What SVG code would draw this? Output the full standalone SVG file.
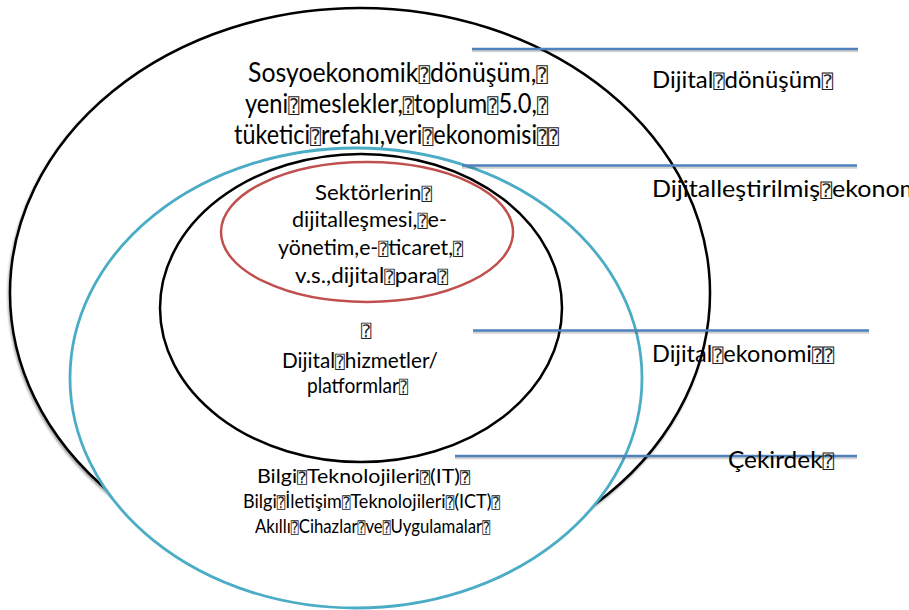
<svg xmlns="http://www.w3.org/2000/svg" width="909" height="610" viewBox="0 0 909 610">
<style>
.t{font-family:Lato,"Open Sans","Liberation Sans",sans-serif;fill:#000}
.big{font-size:26px}
.mid{font-size:22px}
.sm{font-size:20px}
.lab{font-size:24px}
.q{font-family:"DejaVu Sans Mono","DejaVu Sans",monospace;font-size:0.78em;fill:#222}
.ln{stroke:#4F81BD;stroke-width:2.5;fill:none}
.sh{stroke:#000;stroke-opacity:0.18;stroke-width:2.5;fill:none}
</style>
<defs>
<filter id="ds" x="-5%" y="-5%" width="110%" height="110%">
<feGaussianBlur in="SourceAlpha" stdDeviation="1.2"/>
<feOffset dx="-1" dy="2" result="b"/>
<feComponentTransfer><feFuncA type="linear" slope="0.35"/></feComponentTransfer>
<feMerge><feMergeNode/><feMergeNode in="SourceGraphic"/></feMerge>
</filter>
</defs>
<g id="dijital-donusum-ellipse">
<ellipse cx="360" cy="293" rx="350" ry="285" fill="#fff" stroke="#000" stroke-width="2.5" filter="url(#ds)"/>
</g>
<g id="dijitallestirilmis-ellipse">
<ellipse cx="356" cy="378" rx="286" ry="230" fill="#fff" stroke="#4BACC6" stroke-width="2.8"/>
</g>
<g id="dijital-ekonomi-ellipse">
<ellipse cx="361" cy="308" rx="201" ry="154" fill="#fff" stroke="#000" stroke-width="2.5"/>
</g>
<g id="sektor-ellipse">
<ellipse cx="367" cy="232" rx="146" ry="70" fill="none" stroke="#C0504D" stroke-width="2.5"/>
</g>
<g id="connectors">
<line class="sh" x1="472" y1="51" x2="858" y2="51"/>
<line class="ln" x1="472" y1="49" x2="858" y2="49"/>
<line class="sh" x1="462" y1="167.5" x2="857" y2="167.5"/>
<line class="ln" x1="462" y1="165.5" x2="857" y2="165.5"/>
<line class="sh" x1="473" y1="332.5" x2="869" y2="332.5"/>
<line class="ln" x1="473" y1="330.5" x2="869" y2="330.5"/>
<line class="sh" x1="455" y1="458" x2="857" y2="458"/>
<line class="ln" x1="455" y1="456" x2="857" y2="456"/>
</g>
<g id="outer-text">
<text class="t big" x="248" y="82" textLength="300" lengthAdjust="spacingAndGlyphs">Sosyoekonomik<tspan class="q">⍰</tspan>dönüşüm,<tspan class="q">⍰</tspan></text>
<text class="t big" x="245" y="113" textLength="303" lengthAdjust="spacingAndGlyphs">yeni<tspan class="q">⍰</tspan>meslekler,<tspan class="q">⍰</tspan>toplum<tspan class="q">⍰</tspan>5.0,<tspan class="q">⍰</tspan></text>
<text class="t big" x="234" y="144" textLength="325" lengthAdjust="spacingAndGlyphs">tüketici<tspan class="q">⍰</tspan>refahı,veri<tspan class="q">⍰</tspan>ekonomisi<tspan class="q">⍰⍰</tspan></text>
</g>
<g id="sektor-text">
<text class="t mid" x="315" y="200" textLength="117" lengthAdjust="spacingAndGlyphs">Sektörlerin<tspan class="q">⍰</tspan></text>
<text class="t mid" x="292" y="227" textLength="155" lengthAdjust="spacingAndGlyphs">dijitalleşmesi,<tspan class="q">⍰</tspan>e-</text>
<text class="t mid" x="278" y="255" textLength="185" lengthAdjust="spacingAndGlyphs">yönetim,e-<tspan class="q">⍰</tspan>ticaret,<tspan class="q">⍰</tspan></text>
<text class="t mid" x="295" y="283" textLength="153" lengthAdjust="spacingAndGlyphs">v.s.,dijital<tspan class="q">⍰</tspan>para<tspan class="q">⍰</tspan></text>
</g>
<g id="hizmet-text">
<text class="t mid" x="361" y="337"><tspan class="q">⍰</tspan></text>
<text class="t mid" x="282" y="368" textLength="156" lengthAdjust="spacingAndGlyphs">Dijital<tspan class="q">⍰</tspan>hizmetler/</text>
<text class="t mid" x="307" y="393" textLength="101" lengthAdjust="spacingAndGlyphs">platformlar<tspan class="q">⍰</tspan></text>
</g>
<g id="cekirdek-text">
<text class="t sm" x="257" y="483" textLength="213" lengthAdjust="spacingAndGlyphs">Bilgi<tspan class="q">⍰</tspan>Teknolojileri<tspan class="q">⍰</tspan>(IT)<tspan class="q">⍰</tspan></text>
<text class="t sm" x="243" y="508" textLength="257" lengthAdjust="spacingAndGlyphs">Bilgi<tspan class="q">⍰</tspan>İletişim<tspan class="q">⍰</tspan>Teknolojileri<tspan class="q">⍰</tspan>(ICT)<tspan class="q">⍰</tspan></text>
<text class="t sm" x="255" y="533" textLength="235" lengthAdjust="spacingAndGlyphs">Akıllı<tspan class="q">⍰</tspan>Cihazlar<tspan class="q">⍰</tspan>ve<tspan class="q">⍰</tspan>Uygulamalar<tspan class="q">⍰</tspan></text>
</g>
<g id="labels">
<text class="t lab" x="652" y="88" textLength="181" lengthAdjust="spacingAndGlyphs">Dijital<tspan class="q">⍰</tspan>dönüşüm<tspan class="q">⍰</tspan></text>
<text class="t lab" x="652" y="197" textLength="286" lengthAdjust="spacingAndGlyphs">Dijitalleştirilmiş<tspan class="q">⍰</tspan>ekonomi<tspan class="q">⍰</tspan></text>
<text class="t lab" x="652" y="362" textLength="182" lengthAdjust="spacingAndGlyphs">Dijital<tspan class="q">⍰</tspan>ekonomi<tspan class="q">⍰⍰</tspan></text>
<text class="t lab" x="728" y="468" textLength="106" lengthAdjust="spacingAndGlyphs">Çekirdek<tspan class="q">⍰</tspan></text>
</g>
</svg>
